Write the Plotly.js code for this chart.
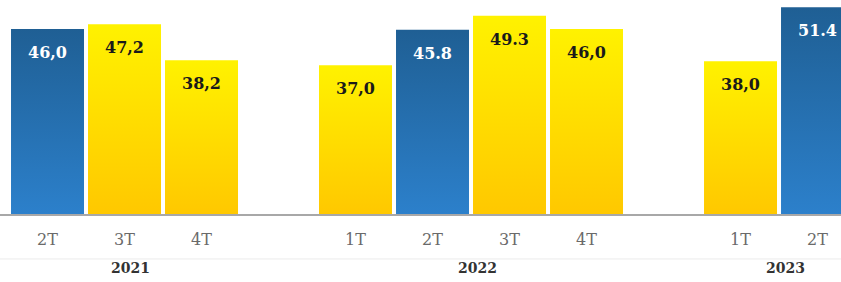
<!DOCTYPE html>
<html>
<head>
<meta charset="utf-8">
<script src="https://cdn.plot.ly/plotly-3.0.1.min.js"></script>
<style>
html,body{margin:0;padding:0;background:#fff;}
#chart{width:841px;height:282px;}
</style>
</head>
<body>
<div id="chart"></div>
<script>
// ---- data ----
var years    = ['2021','2021','2021','2022','2022','2022','2022','2023','2023'];
var quarters = ['2T','3T','4T','1T','2T','3T','4T','1T','2T'];
var values   = [46.0, 47.2, 38.2, 37.0, 45.8, 49.3, 46.0, 38.0, 51.4];
var labels   = ['46,0','47,2','38,2','37,0','45.8','49.3','46,0','38,0','51.4'];
var yearList = ['2021','2022','2023'];

// ---- positions: one empty slot between year groups ----
var pos = [], slot = 0;
for (var i = 0; i < years.length; i++) {
  if (i > 0 && years[i] !== years[i-1]) slot++;   // gap between groups
  pos.push(slot);
  slot++;
}
var isBlue = quarters.map(function(q){ return q === '2T'; });

var trace = {
  type: 'bar',
  x: pos,
  y: values,
  marker: {color: isBlue.map(function(b){ return b ? '#2a72b5' : '#ffe000'; }), line: {width: 0}},
  hoverinfo: 'none',
  cliponaxis: true
};

var annotations = [];
for (var k = 0; k < values.length; k++) {
  annotations.push({
    x: pos[k], y: values[k], xref: 'x', yref: 'y',
    text: '<b>' + labels[k] + '</b>', showarrow: false,
    yanchor: 'top', yshift: -12,
    font: {family: 'DejaVu Serif', size: 16, color: isBlue[k] ? '#ffffff' : '#1a1a1a'}
  });
}
yearList.forEach(function(yr){
  var ps = pos.filter(function(p, j){ return years[j] === yr; });
  var mid = ps.reduce(function(a,b){return a+b;}, 0) / ps.length;
  annotations.push({
    x: mid, y: 0, xref: 'x', yref: 'paper', yanchor: 'middle',
    yshift: -54, xshift: 6,
    text: '<b>' + yr + '</b>', showarrow: false,
    font: {family: 'DejaVu Serif', size: 14, color: '#333333'}
  });
});

var layout = {
  width: 841, height: 282,
  margin: {l: 0, r: 0, t: 0, b: 68},
  paper_bgcolor: '#ffffff', plot_bgcolor: '#ffffff',
  bargap: 0.052,
  showlegend: false,
  xaxis: {
    range: [-0.617, 10.305],
    tickvals: pos, ticktext: quarters,
    ticks: 'outside', ticklen: 10, tickcolor: 'rgba(0,0,0,0)',
    tickfont: {family: 'DejaVu Serif', size: 16, color: '#6a6a6a'},
    showgrid: false, zeroline: false,
    showline: true, linecolor: '#a8a8a8', linewidth: 1.5,
    fixedrange: true
  },
  yaxis: {
    range: [0, 53.2], visible: false, showgrid: false, zeroline: false, fixedrange: true
  },
  shapes: [{
    type: 'line', xref: 'paper', yref: 'paper', x0: 0, x1: 1, y0: -0.21, y1: -0.21,
    line: {color: '#ebebeb', width: 1}
  }],
  annotations: annotations
};

Plotly.newPlot('chart', [trace], layout, {displayModeBar: false, staticPlot: true}).then(function(gd){
  var svg = gd.querySelector('.main-svg');
  var NS = 'http://www.w3.org/2000/svg';
  var defs = svg.querySelector('defs') || svg.insertBefore(document.createElementNS(NS, 'defs'), svg.firstChild);
  function grad(id, top, bottom) {
    var g = document.createElementNS(NS, 'linearGradient');
    g.setAttribute('id', id);
    g.setAttribute('x1', '0'); g.setAttribute('y1', '0');
    g.setAttribute('x2', '0'); g.setAttribute('y2', '1');
    [[0, top], [1, bottom]].forEach(function(s){
      var st = document.createElementNS(NS, 'stop');
      st.setAttribute('offset', s[0]);
      st.setAttribute('stop-color', s[1]);
      g.appendChild(st);
    });
    defs.appendChild(g);
  }
  grad('gBlue', '#1f5f94', '#2c80cb');
  grad('gYellow', '#fff200', '#ffc800');
  var paths = gd.querySelectorAll('.barlayer .point path');
  paths.forEach(function(p, idx){
    p.style.fill = isBlue[idx] ? 'url(#gBlue)' : 'url(#gYellow)';
  });
});
</script>
</body>
</html>
